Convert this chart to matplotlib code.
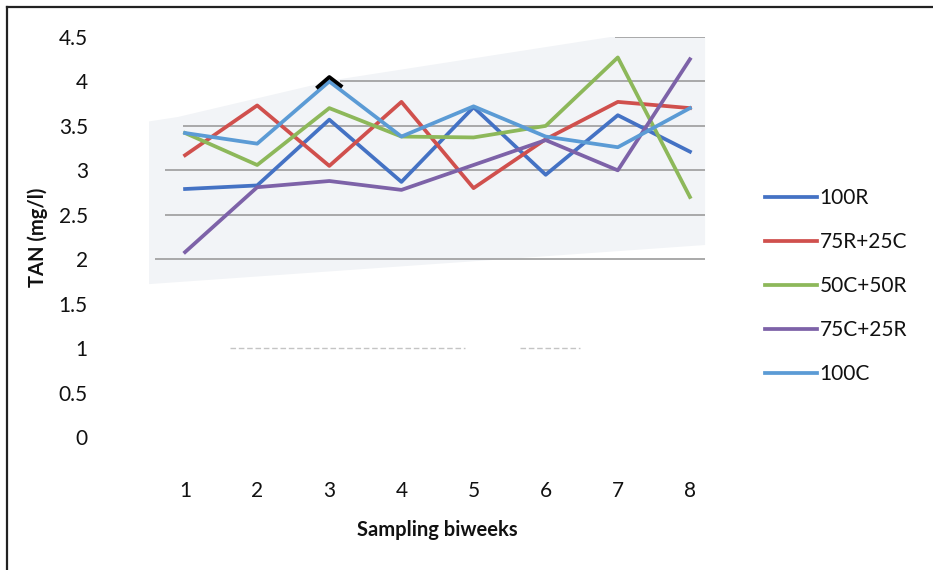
import matplotlib.pyplot as plt
from matplotlib.lines import Line2D
from matplotlib.patches import Polygon

plt.rcParams['font.family'] = ['Lato', 'DejaVu Sans']

biweeks = [1, 2, 3, 4, 5, 6, 7, 8]
tan_100R = [2.79, 2.83, 3.57, 2.87, 3.71, 2.95, 3.62, 3.21]
tan_75R25C = [3.17, 3.73, 3.05, 3.77, 2.80, 3.35, 3.77, 3.70]
tan_50C50R = [3.42, 3.06, 3.70, 3.38, 3.37, 3.50, 4.27, 2.70]
tan_75C25R = [2.08, 2.81, 2.88, 2.78, 3.06, 3.34, 3.00, 4.25]
tan_100C = [3.42, 3.30, 4.00, 3.38, 3.72, 3.38, 3.26, 3.70]

labels = ['100R', '75R+25C', '50C+50R', '75C+25R', '100C']
colors = ['#4472C4', '#D0504D', '#8DB85A', '#7D62A8', '#5B9BD5']
series = [tan_100R, tan_75R25C, tan_50C50R, tan_75C25R, tan_100C]

fig = plt.figure(figsize=(9.33, 5.7), dpi=100)
ax = fig.add_axes([149/933, 133/570, 577/933, 400/570])

# faint grey wash behind the lines
ax.add_patch(Polygon([(0.5, 1.72), (8.21, 2.16), (8.21, 4.5), (6.9, 4.5),
                      (3.1, 4.02), (0.9, 3.6), (0.5, 3.55)],
                     closed=True, facecolor='#f2f4f7', edgecolor='none', zorder=0))

# gridlines (only partly visible)
grid_spans = {4.5: (6.96, 8.21), 4.0: (3.15, 8.21), 3.5: (0.97, 8.21),
              3.0: (0.72, 8.21), 2.5: (0.72, 8.21), 2.0: (0.58, 8.21)}
for yv, (x0, x1) in grid_spans.items():
    ax.hlines(yv, x0, x1, color='#a3a3a3', lw=1.3, zorder=1)
ax.hlines(1.0, 1.62, 4.88, color='#c4c4c4', lw=1.0, ls=(0, (4, 2)), zorder=1)
ax.hlines(1.0, 5.64, 6.48, color='#c4c4c4', lw=1.0, ls=(0, (4, 2)), zorder=1)

for vals, lab, col in zip(series, labels, colors):
    ax.plot(biweeks, vals, color=col, lw=2.7, label=lab, zorder=3)

# dark mark over the 100C peak
i = biweeks.index(3)
ax.plot([2.84, 3, 3.16],
        [tan_100C[i] - 0.16*(tan_100C[i]-tan_100C[i-1]) + 0.05, tan_100C[i] + 0.05,
         tan_100C[i] - 0.16*(tan_100C[i]-tan_100C[i+1]) + 0.05],
        color='black', lw=2.7, zorder=4)

ax.set_xlim(0.5, 8.5)
ax.set_ylim(0, 4.5)
ax.set_xticks(biweeks)
ax.set_yticks([0, 0.5, 1, 1.5, 2, 2.5, 3, 3.5, 4, 4.5])
ax.set_yticklabels(['0', '0.5', '1', '1.5', '2', '2.5', '3', '3.5', '4', '4.5'])
ax.tick_params(length=0, labelsize=15, colors='#111111')
ax.tick_params(axis='y', pad=44)
ax.tick_params(axis='x', pad=32)
for s in ax.spines.values():
    s.set_visible(False)

fig.text(38/933, 1-237/570, 'TAN (mg/l)', rotation=90, ha='center', va='center',
         fontsize=14.5, fontweight='bold', color='#111111')
fig.text(437/933, 1-530/570, 'Sampling biweeks', ha='center', va='center',
         fontsize=14.5, fontweight='bold', color='#111111')

fig.legend(loc='center left', bbox_to_anchor=(765/933, 1-286/570), frameon=False,
           fontsize=15, handlelength=2.5, handletextpad=0.12, labelspacing=1.15,
           borderpad=0, borderaxespad=0, labelcolor='#111111')

# frame on the top and left edges
fig.add_artist(Line2D([7/933, 1], [1-7/570, 1-7/570], color='#222222', lw=1.6,
                      transform=fig.transFigure))
fig.add_artist(Line2D([7/933, 7/933], [0, 1-7/570], color='#222222', lw=1.6,
                      transform=fig.transFigure))

fig.savefig('out.png', dpi=100)
